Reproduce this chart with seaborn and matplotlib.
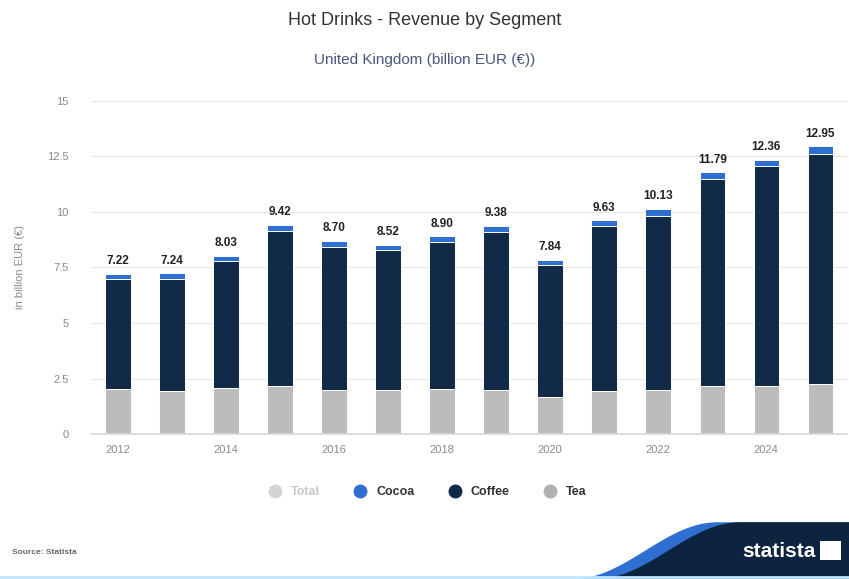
import numpy as np
import pandas as pd
import seaborn as sns
import matplotlib.pyplot as plt
from matplotlib.lines import Line2D
from matplotlib.patches import Polygon, Rectangle

# -----------------------------------------------------------------------------
# DATA (billion EUR)
# -----------------------------------------------------------------------------
years = [str(y) for y in range(2012, 2026)]
totals = [7.22, 7.24, 8.03, 9.42, 8.70, 8.52, 8.90, 9.38, 7.84, 9.63, 10.13, 11.79, 12.36, 12.95]
tea = [2.03, 1.95, 2.07, 2.17, 2.00, 2.00, 2.02, 2.00, 1.67, 1.92, 2.00, 2.16, 2.16, 2.25]
cocoa = [0.24, 0.27, 0.24, 0.27, 0.26, 0.25, 0.27, 0.28, 0.24, 0.28, 0.29, 0.31, 0.31, 0.32]
coffee = [t - a - c for t, a, c in zip(totals, tea, cocoa)]

df = pd.DataFrame({"year": years, "tea": tea, "coffee": coffee, "cocoa": cocoa, "total": totals})
df["tea_coffee"] = df["tea"] + df["coffee"]

c_tea = "#bcbcbc"
c_coffee = "#102a48"
c_cocoa = "#2f6fd2"
c_total = "#d4d4d4"

sns.set_theme(style="white")
plt.rcParams["font.family"] = ["Liberation Sans", "DejaVu Sans"]

fig = plt.figure(figsize=(8.49, 5.79), dpi=100)
ax = fig.add_axes([0.107, 0.2504, 0.891, 0.5752])

# stacked bars via overlapping cumulative heights
bar_kw = dict(width=0.47, edgecolor="white", linewidth=0.7, ax=ax)
sns.barplot(data=df, x="year", y="total", color=c_cocoa, saturation=1, **bar_kw)
sns.barplot(data=df, x="year", y="tea_coffee", color=c_coffee, saturation=1, **bar_kw)
sns.barplot(data=df, x="year", y="tea", color=c_tea, saturation=1, **bar_kw)

# total labels
for i, t in enumerate(totals):
    ax.text(i, t + 0.3, f"{t:.2f}", ha="center", va="bottom", fontsize=8.5,
            fontweight="bold", color="#222222")

ax.set_ylim(0, 15)
ax.set_xlim(-0.5, len(years) - 0.5)
ax.set_yticks([0, 2.5, 5, 7.5, 10, 12.5, 15])
ax.set_yticklabels(["0", "2.5", "5", "7.5", "10", "12.5", "15"])
ax.set_xticks(range(len(years)))
ax.set_xticklabels([y if int(y) % 2 == 0 else "" for y in years])
ax.tick_params(axis="y", length=0, pad=16, labelsize=8, labelcolor="#8a8a8a")
ax.tick_params(axis="x", length=0, pad=8, labelsize=8, labelcolor="#8a8a8a")
ax.yaxis.grid(True, color="#e8e8e8", linewidth=0.9)
ax.set_axisbelow(True)
for s in ["top", "right", "left"]:
    ax.spines[s].set_visible(False)
ax.spines["bottom"].set_color("#d8d8d8")
ax.set_xlabel("")
ax.set_ylabel("in billion EUR (€)", fontsize=8, color="#8a8a8a", labelpad=16)

# titles
fig.text(0.5, 0.965, "Hot Drinks - Revenue by Segment", ha="center", va="center",
         fontsize=13, color="#333333")
fig.text(0.5, 0.897, "United Kingdom (billion EUR (€))", ha="center", va="center",
         fontsize=11, color="#4a5580")

# legend
handles = [Line2D([], [], marker="o", linestyle="", markersize=9, color=c)
           for c in [c_total, c_cocoa, c_coffee, "#b0b0b0"]]
leg = fig.legend(handles, ["Total", "Cocoa", "Coffee", "Tea"], loc="center",
                 bbox_to_anchor=(0.5, 0.15), ncol=4, frameon=False,
                 handletextpad=0.3, columnspacing=2.2, prop={"weight": "bold", "size": 9})
for txt, col in zip(leg.get_texts(), ["#c8c8c8", "#333333", "#333333", "#333333"]):
    txt.set_color(col)

# footer
fig.text(0.014, 0.046, "Source: Statista", fontsize=6, fontweight="bold", color="#666666",
         va="center")
# statista swoosh: smooth curve rising from bottom-left to a flat top
tt = np.linspace(0, 1, 40)
cx = 0.69 + 0.17 * tt
cy = 0.098 * (0.5 - 0.5 * np.cos(np.pi * tt))
light = np.column_stack([np.r_[cx - 0.015, 1.0, 1.0], np.r_[cy, 0.098, 0.0]])
dark = np.column_stack([np.r_[cx + 0.012, 1.0, 1.0], np.r_[cy * 1.0, 0.098, 0.0]])
fig.patches.append(Polygon(light, closed=True, transform=fig.transFigure,
                           facecolor="#2f6fd2", edgecolor="none"))
fig.patches.append(Polygon(dark, closed=True, transform=fig.transFigure,
                           facecolor="#0d2440", edgecolor="none"))
fig.text(0.918, 0.048, "statista", ha="center", va="center", fontsize=15,
         fontweight="bold", color="white")
fig.patches.append(Rectangle((0.966, 0.032), 0.024, 0.034, transform=fig.transFigure,
                             facecolor="white", edgecolor="none"))
fig.lines.append(Line2D([0, 1], [0.003, 0.003], transform=fig.transFigure,
                        color="#bfe6ff", linewidth=2))

fig.savefig("out.png", dpi=100)
